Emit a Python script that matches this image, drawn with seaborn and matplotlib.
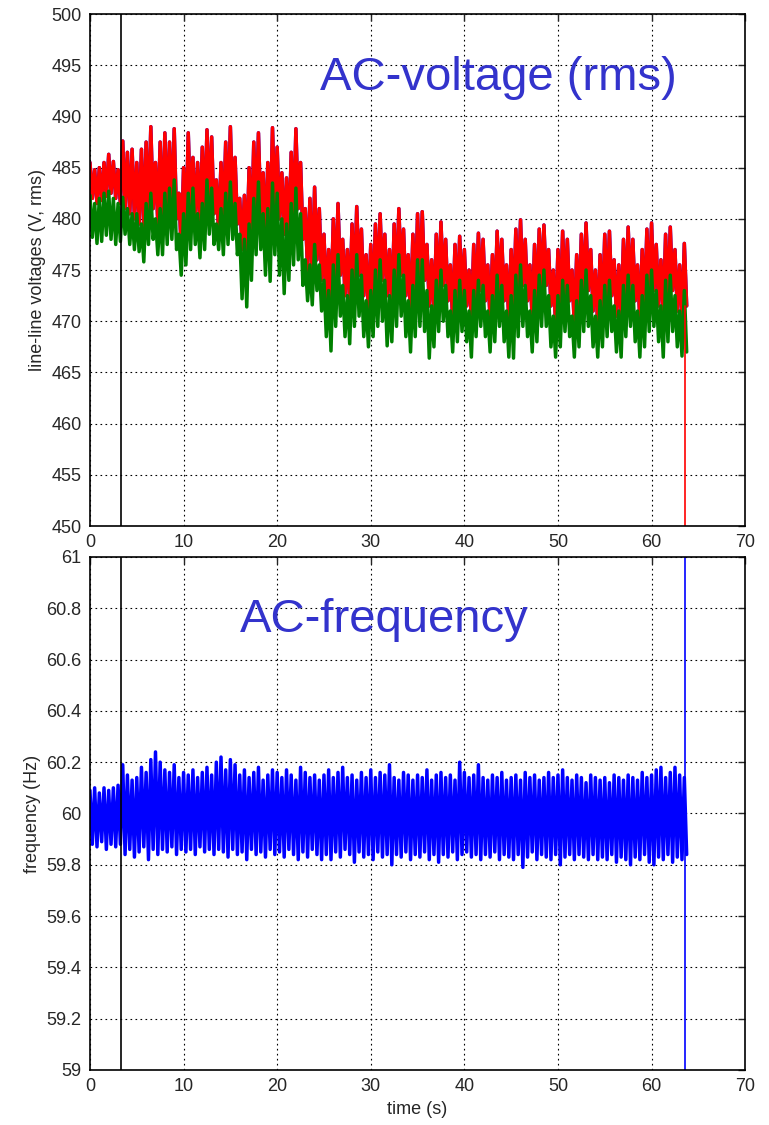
"""AC voltage (rms) and AC frequency traces, two stacked panels."""
import numpy as np
import pandas as pd
import matplotlib
matplotlib.use("Agg")
import matplotlib.pyplot as plt
from matplotlib.ticker import FormatStrFormatter
import seaborn as sns

# sample grid of the envelopes (0.5 s steps, 0 .. 63.5 s)
t_step = 0.5
t_marker = 3.3          # black vertical marker line
t_end = 63.55           # end of the recording (trace drops)
v_end = 450.0
f_end = [59.0, 61.0]

# upper / lower envelope of the red line-line voltage (V)
red_hi = [
    485.5, 484.8, 485.0, 485.5, 486.3, 485.6, 484.8, 487.6, 486.5, 486.8,
    485.5, 486.8, 487.5, 489.0, 485.5, 487.5, 488.4, 487.5, 488.8, 482.5,
    485.0, 488.4, 486.0, 485.5, 487.0, 488.7, 488.0, 483.8, 485.5, 487.5,
    489.0, 486.0, 482.0, 482.3, 485.0, 487.5, 488.4, 484.5, 485.5, 488.9,
    487.0, 484.5, 484.0, 486.5, 488.8, 485.5, 481.0, 482.0, 483.1, 481.0,
    478.5, 477.0, 480.0, 481.5, 478.0, 477.0, 479.5, 481.2, 479.0, 476.5,
    477.5, 479.5, 480.5, 478.5, 477.0, 479.5, 481.0, 479.0, 476.5, 478.5,
    480.5, 480.7, 477.5, 476.0, 478.5, 479.7, 478.0, 475.5, 477.5, 478.3,
    477.0, 475.0, 477.5, 478.6, 478.0, 475.5, 476.5, 478.8, 478.0, 475.5,
    477.0, 479.0, 479.9, 478.0, 475.5, 477.5, 479.0, 479.4, 477.0, 475.0,
    477.0, 478.8, 478.0, 475.0, 476.5, 478.5, 479.6, 477.0, 475.0, 476.5,
    478.5, 478.8, 476.0, 475.5, 478.0, 479.2, 478.0, 475.5, 477.0, 479.0,
    479.6, 477.5, 476.0, 478.5, 479.2, 477.0, 475.5, 477.6,
]
red_lo = [
    482.0, 481.5, 481.8, 482.2, 482.5, 482.0, 481.5, 481.0, 480.5, 480.0,
    479.5, 479.0, 480.0, 481.0, 479.5, 479.5, 480.5, 480.5, 480.0, 477.0,
    479.0, 481.0, 480.0, 479.5, 480.0, 481.0, 480.5, 478.5, 479.5, 480.5,
    481.0, 479.5, 477.0, 476.5, 478.0, 480.0, 480.5, 478.0, 479.0, 481.0,
    480.0, 478.5, 478.0, 479.5, 481.0, 478.0, 475.0, 474.0, 476.0, 474.0,
    472.0, 471.5, 473.5, 474.5, 472.5, 471.5, 473.0, 474.5, 472.5, 471.0,
    471.5, 473.0, 474.0, 472.5, 471.0, 473.0, 474.5, 472.5, 470.5, 472.0,
    473.5, 474.0, 471.5, 470.5, 472.5, 473.5, 472.0, 470.0, 471.5, 472.5,
    471.5, 470.0, 472.0, 473.0, 472.0, 470.0, 471.0, 473.0, 472.0, 470.0,
    471.0, 472.5, 473.5, 472.0, 470.0, 471.5, 473.0, 473.5, 471.5, 469.5,
    471.0, 472.5, 472.0, 469.5, 471.0, 472.5, 473.0, 471.0, 469.5, 470.5,
    472.0, 472.5, 470.5, 470.0, 472.0, 473.0, 472.0, 470.0, 471.0, 472.5,
    473.0, 471.5, 470.5, 472.0, 473.0, 471.0, 470.0, 471.5,
]

# upper / lower envelope of the green line-line voltage (V)
green_hi = [
    482.3, 481.5, 482.0, 482.5, 482.7, 482.0, 481.5, 482.1, 481.0, 480.5,
    480.5, 479.5, 481.5, 482.5, 480.0, 481.0, 482.5, 483.0, 483.8, 478.5,
    480.5, 482.5, 483.0, 480.5, 481.5, 483.8, 483.0, 479.5, 481.0, 482.5,
    483.6, 481.5, 478.5, 478.0, 479.5, 482.0, 483.6, 480.5, 481.0, 483.5,
    482.5, 480.0, 479.5, 481.5, 483.0, 480.5, 476.0, 475.5, 477.5, 475.5,
    474.0, 473.0, 475.5, 476.5, 473.5, 472.5, 475.0, 476.5, 474.5, 472.0,
    473.0, 475.0, 476.0, 474.0, 472.5, 475.0, 476.5, 474.5, 472.0, 473.5,
    476.0, 476.0, 473.0, 471.5, 474.0, 475.0, 473.5, 471.0, 473.0, 474.0,
    473.0, 471.0, 473.0, 474.0, 473.5, 471.0, 472.5, 474.5, 473.5, 471.0,
    472.5, 474.5, 475.5, 473.5, 471.0, 473.0, 474.5, 475.0, 472.5, 470.5,
    472.5, 474.0, 473.5, 470.5, 472.0, 474.0, 475.0, 472.5, 470.5, 472.0,
    473.5, 474.0, 471.5, 471.0, 473.5, 474.5, 473.5, 471.0, 472.5, 474.5,
    475.0, 473.0, 471.5, 474.0, 474.5, 472.5, 471.0, 473.0,
]
green_lo = [
    478.2, 477.6, 477.8, 478.4, 478.0, 477.5, 477.8, 478.5, 477.5, 477.0,
    476.8, 475.8, 477.5, 478.0, 476.5, 476.5, 477.5, 478.0, 477.0, 474.5,
    475.5, 477.0, 477.5, 476.2, 477.0, 478.5, 477.5, 477.0, 476.5, 477.5,
    478.0, 476.5, 472.2, 471.4, 474.0, 476.5, 477.0, 474.5, 473.9, 476.5,
    474.5, 472.7, 474.0, 475.5, 476.0, 473.5, 472.0, 471.6, 473.0, 471.0,
    468.5, 467.1, 469.5, 470.5, 468.5, 467.8, 469.5, 470.5, 468.5, 467.5,
    468.5, 469.5, 470.0, 467.6, 468.0, 469.5, 470.5, 468.5, 467.0, 468.5,
    469.5, 469.0, 466.4, 467.5, 469.0, 470.0, 468.5, 467.0, 468.0, 469.0,
    468.0, 466.5, 468.5, 469.5, 468.5, 467.0, 468.0, 469.5, 468.0, 466.5,
    466.4, 468.5, 469.5, 468.5, 467.0, 468.0, 469.5, 469.5, 467.5, 466.5,
    467.5, 469.0, 468.5, 466.5, 467.5, 469.0, 469.5, 467.5, 466.5, 467.5,
    468.5, 469.0, 467.0, 466.5, 468.5, 469.5, 468.0, 466.5, 467.5, 469.0,
    469.5, 468.0, 466.5, 468.0, 469.0, 467.5, 466.6, 467.0,
]

# upper / lower envelope of the frequency (Hz)
freq_hi = [
    60.09, 60.10, 60.08, 60.10, 60.09, 60.10, 60.11, 60.19, 60.15, 60.13,
    60.14, 60.18, 60.16, 60.21, 60.24, 60.20, 60.17, 60.16, 60.19, 60.14,
    60.16, 60.15, 60.17, 60.14, 60.16, 60.18, 60.15, 60.20, 60.22, 60.17,
    60.21, 60.19, 60.15, 60.17, 60.14, 60.16, 60.18, 60.13, 60.15, 60.17,
    60.16, 60.14, 60.17, 60.15, 60.13, 60.18, 60.16, 60.14, 60.15, 60.13,
    60.15, 60.17, 60.14, 60.16, 60.18, 60.14, 60.15, 60.13, 60.16, 60.14,
    60.17, 60.14, 60.16, 60.15, 60.19, 60.14, 60.13, 60.16, 60.15, 60.13,
    60.15, 60.14, 60.17, 60.13, 60.15, 60.16, 60.14, 60.15, 60.13, 60.20,
    60.16, 60.14, 60.15, 60.19, 60.14, 60.13, 60.15, 60.14, 60.16, 60.13,
    60.14, 60.15, 60.13, 60.16, 60.14, 60.15, 60.13, 60.14, 60.16, 60.14,
    60.15, 60.17, 60.14, 60.13, 60.15, 60.14, 60.12, 60.15, 60.14, 60.13,
    60.14, 60.12, 60.15, 60.14, 60.13, 60.15, 60.14, 60.13, 60.16, 60.14,
    60.15, 60.17, 60.18, 60.14, 60.16, 60.18, 60.15, 60.14,
]
freq_lo = [
    59.88, 59.87, 59.89, 59.86, 59.88, 59.87, 59.88, 59.84, 59.86, 59.83,
    59.85, 59.87, 59.82, 59.86, 59.84, 59.86, 59.85, 59.87, 59.84, 59.86,
    59.85, 59.86, 59.84, 59.87, 59.85, 59.86, 59.84, 59.86, 59.85, 59.83,
    59.86, 59.84, 59.85, 59.82, 59.86, 59.84, 59.85, 59.83, 59.86, 59.84,
    59.85, 59.83, 59.86, 59.84, 59.82, 59.85, 59.83, 59.86, 59.84, 59.82,
    59.84, 59.82, 59.85, 59.83, 59.86, 59.84, 59.81, 59.85, 59.83, 59.84,
    59.82, 59.85, 59.83, 59.84, 59.80, 59.84, 59.83, 59.85, 59.82, 59.84,
    59.83, 59.85, 59.82, 59.84, 59.81, 59.84, 59.83, 59.85, 59.82, 59.84,
    59.85, 59.83, 59.84, 59.82, 59.84, 59.83, 59.85, 59.82, 59.84, 59.83,
    59.82, 59.84, 59.79, 59.83, 59.85, 59.82, 59.84, 59.83, 59.82, 59.84,
    59.80, 59.83, 59.84, 59.82, 59.84, 59.83, 59.82, 59.84, 59.82, 59.83,
    59.82, 59.84, 59.81, 59.83, 59.82, 59.80, 59.83, 59.82, 59.84, 59.81,
    59.80, 59.83, 59.82, 59.84, 59.81, 59.83, 59.82, 59.84,
]

TEXT_BLUE = "#3333cc"
TRACE_LW = 2.5


def zigzag(hi, lo):
    """Alternate between the upper and lower envelope to mimic the dense trace."""
    t = np.arange(len(hi)) * t_step
    x = np.column_stack([t, t + t_step / 2]).ravel()
    y = np.column_stack([hi, lo]).ravel()
    return pd.DataFrame({"t": x, "v": y})


def style_axes(ax):
    ax.grid(True, color="black", linestyle=(0, (1.5, 3)), linewidth=0.8)
    ax.tick_params(direction="in", length=5, width=1, labelsize=13,
                   top=True, right=True, pad=6)
    for sp in ax.spines.values():
        sp.set_color("black")
        sp.set_linewidth(1.2)
    ax.axvline(t_marker, color="black", lw=1.2, zorder=3)


sns.set_style("white")
plt.rcParams["font.family"] = ["Liberation Sans", "DejaVu Sans"]

fig = plt.figure(figsize=(7.69, 11.25), dpi=100)
ax1 = fig.add_axes([0.117, 0.5324, 0.852, 0.4551])
ax2 = fig.add_axes([0.117, 0.0489, 0.852, 0.456])

# voltage panel
red_df = zigzag(red_hi, red_lo)
green_df = zigzag(green_hi, green_lo)
sns.lineplot(data=red_df, x="t", y="v", ax=ax1, color="blue", lw=TRACE_LW,
             estimator=None, sort=False)
sns.lineplot(data=red_df, x="t", y="v", ax=ax1, color="red", lw=TRACE_LW,
             estimator=None, sort=False)
sns.lineplot(data=green_df, x="t", y="v", ax=ax1, color="green", lw=TRACE_LW,
             estimator=None, sort=False)
# final drop of the recording
sns.lineplot(x=[t_end, t_end], y=[red_lo[-1], v_end], ax=ax1, color="red",
             lw=1.2, estimator=None, sort=False)
ax1.set_xlim(0, 70)
ax1.set_ylim(450, 500)
ax1.set_xticks(np.arange(0, 71, 10))
ax1.set_yticks(np.arange(450, 501, 5))
ax1.set_xlabel("")
ax1.set_ylabel("line-line voltages (V, rms)", fontsize=13)
ax1.text(0.623, 0.875, "AC-voltage (rms)", transform=ax1.transAxes,
         ha="center", va="center", fontsize=34, color=TEXT_BLUE)
style_axes(ax1)

# frequency panel
freq_df = zigzag(freq_hi, freq_lo)
sns.lineplot(data=freq_df, x="t", y="v", ax=ax2, color="blue", lw=TRACE_LW,
             estimator=None, sort=False)
sns.lineplot(x=[t_end, t_end], y=f_end, ax=ax2, color="blue",
             lw=1.2, estimator=None, sort=False)
ax2.set_xlim(0, 70)
ax2.set_ylim(59, 61)
ax2.set_xticks(np.arange(0, 71, 10))
ax2.set_yticks(np.arange(59, 61.01, 0.2))
ax2.yaxis.set_major_formatter(FormatStrFormatter("%g"))
ax2.set_xlabel("time (s)", fontsize=13)
ax2.set_ylabel("frequency (Hz)", fontsize=13)
ax2.text(0.449, 0.877, "AC-frequency", transform=ax2.transAxes,
         ha="center", va="center", fontsize=34, color=TEXT_BLUE)
style_axes(ax2)

fig.savefig("out.png", dpi=100)
